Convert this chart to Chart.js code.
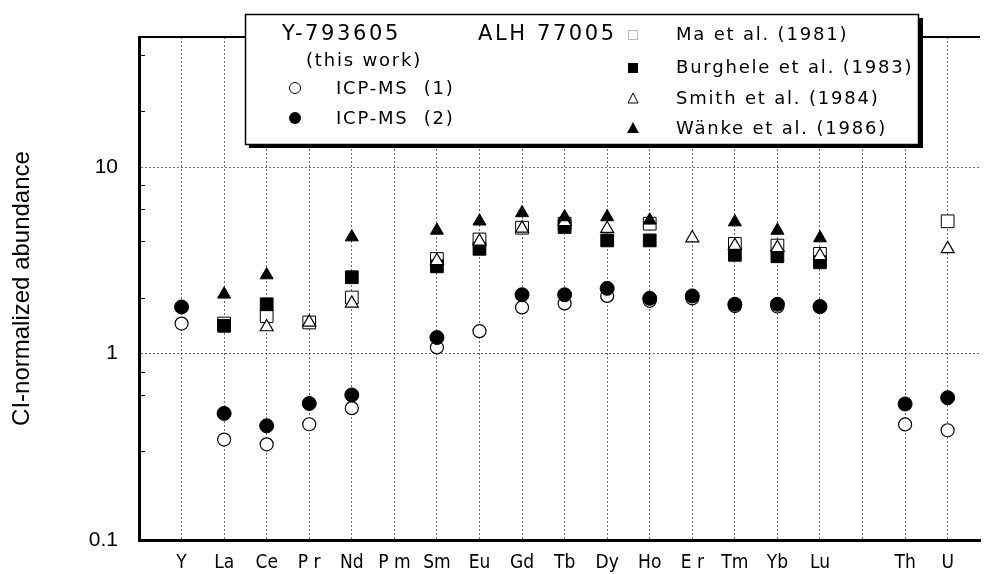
<!DOCTYPE html>
<html>
<head>
<meta charset="utf-8">
<script src="https://cdn.jsdelivr.net/npm/chart.js@4.4.1/dist/chart.umd.min.js"></script>
<style>
  html, body { margin: 0; padding: 0; background: #fff; overflow: hidden; }
  #wrap { width: 990px; height: 574px; position: relative; }
</style>
</head>
<body>
<div id="wrap"><canvas id="reeChart"></canvas></div>
<script>
// element order on the x axis (blank slot between Lu and Th)
const elements = ["Y", "La", "Ce", "P r", "Nd", "P m", "Sm", "Eu", "Gd", "Tb", "Dy", "Ho", "E r", "Tm", "Yb", "Lu", "", "Th", "U"];

// Y-793605 (this work)
const icpms1 = [1.45, 0.346, 0.326, 0.418, 0.51, null, 1.08, 1.32, 1.77, 1.86, 2.04, 1.92, 1.98, 1.80, 1.79, 1.78, null, 0.417, 0.388];
const icpms2 = [1.78, 0.478, 0.41, 0.54, 0.60, null, 1.22, null, 2.07, 2.07, 2.24, 1.98, 2.04, 1.84, 1.84, 1.79, null, 0.537, 0.58];

// ALH 77005
const ma1981       = [null, 1.45, 1.59, 1.47, 2.0, null, 3.22, 4.1, 4.74, 4.98, null, 4.98, null, 3.88, 3.8, 3.43, null, null, 5.13];
const burghele1983 = [null, 1.41, 1.84, null, 2.57, null, 2.94, 3.65, null, 4.78, 4.05, 4.05, null, 3.39, 3.33, 3.09, null, null, null];
const smith1984    = [null, null, 1.39, 1.47, 1.86, null, 3.15, 4.0, 4.7, 5.1, 4.68, null, 4.17, 3.8, 3.7, 3.35, null, null, 3.65];
const wanke1986    = [null, 2.08, 2.64, null, 4.22, null, 4.58, 5.13, 5.69, 5.41, 5.41, 5.19, null, 5.08, 4.58, 4.17, null, null, null];

const yTicksShown = [0.1, 1, 10];

function toPoints(arr) {
    const pts = [];
    arr.forEach((v, i) => { if (v !== null) pts.push({ x: i + 1, y: v }); });
    return pts;
}

function isDecade(v) {
    const l = Math.log10(v);
    return Math.abs(l - Math.round(l)) < 1e-9;
}

const entryFont = "18px 'DejaVu Sans', sans-serif";
const headFont = "21px 'DejaVu Sans', sans-serif";
const gridGrey = "#6a6a6a";

// frame top line, inner minor ticks on the y axis, and the boxed legend
const framePlugin = {
    id: "frame",
    afterDraw(chart) {
        const ctx = chart.ctx;
        const area = chart.chartArea;
        const yScale = chart.scales.y;

        ctx.save();
        ctx.strokeStyle = "#000";
        ctx.lineWidth = 2;
        ctx.beginPath();
        ctx.moveTo(area.left, area.top);
        ctx.lineTo(area.right, area.top);
        ctx.stroke();

        ctx.lineWidth = 1;
        yScale.ticks.forEach(t => {
            if (isDecade(t.value) || t.value >= yScale.max) return;
            const py = Math.round(yScale.getPixelForValue(t.value)) + 0.5;
            ctx.beginPath();
            ctx.moveTo(area.left, py);
            ctx.lineTo(area.left + 6, py);
            ctx.stroke();
        });

        // legend box with drop shadow
        ctx.fillStyle = "#000";
        ctx.fillRect(249, 142, 674, 6);
        ctx.fillRect(917, 18, 6, 130);
        ctx.fillStyle = "#fff";
        ctx.fillRect(245, 14, 674, 130);
        ctx.lineWidth = 1.5;
        ctx.strokeRect(245.5, 14.5, 673, 130);

        ctx.fillStyle = "#000";
        ctx.textBaseline = "middle";
        ctx.textAlign = "left";
        ctx.letterSpacing = "2.6px";
        ctx.font = headFont;
        ctx.fillText("Y-793605", 282, 35);
        ctx.fillText("ALH 77005", 478, 35);

        ctx.letterSpacing = "1.8px";
        ctx.font = entryFont;
        ctx.fillText("(this work)", 306, 61);
        ctx.fillText("ICP-MS  (1)", 336, 89);
        ctx.fillText("ICP-MS  (2)", 336, 119);
        ctx.fillText("Ma et al. (1981)", 676, 35);
        ctx.fillText("Burghele et al. (1983)", 676, 68);
        ctx.fillText("Smith et al. (1984)", 676, 99);
        ctx.fillText("W\u00e4nke et al. (1986)", 676, 129);
        ctx.letterSpacing = "0px";

        // legend symbols
        ctx.lineWidth = 1;
        ctx.strokeStyle = "#000";
        ctx.beginPath();
        ctx.arc(295, 88, 5.5, 0, Math.PI * 2);
        ctx.stroke();
        ctx.beginPath();
        ctx.arc(295, 118, 6, 0, Math.PI * 2);
        ctx.fill();

        ctx.strokeStyle = "#777";
        ctx.setLineDash([1, 1]);
        ctx.strokeRect(628.5, 30.5, 9, 9);
        ctx.setLineDash([]);
        ctx.fillRect(628, 63, 10, 10);
        ctx.strokeStyle = "#000";
        ctx.beginPath();
        ctx.moveTo(633, 93); ctx.lineTo(638, 103); ctx.lineTo(628, 103); ctx.closePath();
        ctx.stroke();
        ctx.beginPath();
        ctx.moveTo(633, 122); ctx.lineTo(639, 133); ctx.lineTo(627, 133); ctx.closePath();
        ctx.fill();
        ctx.restore();
    }
};

const openStyle = { backgroundColor: "#fff", borderColor: "#000", borderWidth: 1.2 };
const filledStyle = { backgroundColor: "#000", borderColor: "#000", borderWidth: 1 };

const datasets = [
    Object.assign({ label: "ICP-MS (2)", data: toPoints(icpms2), pointStyle: "circle", pointRadius: 7, order: 0 }, filledStyle),
    Object.assign({ label: "ICP-MS (1)", data: toPoints(icpms1), pointStyle: "circle", pointRadius: 6.5, order: 1 }, openStyle),
    Object.assign({ label: "W\u00e4nke et al. (1986)", data: toPoints(wanke1986), pointStyle: "triangle", pointRadius: 7.5, order: 2 }, filledStyle),
    Object.assign({ label: "Smith et al. (1984)", data: toPoints(smith1984), pointStyle: "triangle", pointRadius: 7.5, order: 3 }, openStyle),
    Object.assign({ label: "Burghele et al. (1983)", data: toPoints(burghele1983), pointStyle: "rect", pointRadius: 9, order: 4 }, filledStyle),
    Object.assign({ label: "Ma et al. (1981)", data: toPoints(ma1981), pointStyle: "rect", pointRadius: 9, order: 5 }, openStyle, { borderWidth: 1 })
];

const chart = new Chart(document.getElementById("reeChart"), {
    type: "scatter",
    data: { datasets: datasets },
    options: {
        responsive: true,
        maintainAspectRatio: false,
        animation: false,
        layout: { padding: { top: 37, right: 0, left: 0, bottom: 0 } },
        plugins: { legend: { display: false }, tooltip: { enabled: false } },
        scales: {
            x: {
                type: "linear",
                min: 0,
                max: 19.76,
                afterBuildTicks: scale => { scale.ticks = elements.map((e, i) => ({ value: i + 1 })); },
                afterFit: scale => { scale.height = 34; },
                ticks: {
                    autoSkip: false,
                    maxRotation: 0,
                    padding: 12,
                    color: "#000",
                    font: { family: "'Liberation Sans Narrow', 'DejaVu Sans Condensed', 'Liberation Sans', sans-serif", size: 19 },
                    callback: v => elements[Math.round(v) - 1]
                },
                grid: { color: gridGrey, lineWidth: 1, drawTicks: false },
                border: { display: true, color: "#000", width: 3, dash: [2, 2] }
            },
            y: {
                type: "logarithmic",
                min: 0.1,
                max: 50,
                afterFit: scale => { scale.width = 139; },
                ticks: {
                    padding: 21,
                    color: "#000",
                    font: { family: "'Liberation Sans', Arial, sans-serif", size: 21 },
                    callback: v => (yTicksShown.some(t => Math.abs(t - v) < 1e-9) ? String(v) : "")
                },
                grid: {
                    drawTicks: false,
                    lineWidth: 1,
                    color: c => (c.tick && isDecade(c.tick.value) && c.tick.value > 0.1 ? gridGrey : "rgba(0,0,0,0)")
                },
                border: { display: true, color: "#000", width: 3, dash: [2, 2] },
                title: {
                    display: true,
                    text: "CI-normalized abundance",
                    color: "#000",
                    font: { family: "'Liberation Sans', Arial, sans-serif", size: 24 },
                    padding: { top: 8, bottom: 0 }
                }
            }
        }
    },
    plugins: [framePlugin]
});
</script>
</body>
</html>
